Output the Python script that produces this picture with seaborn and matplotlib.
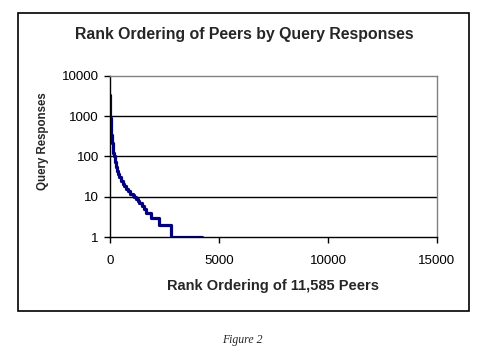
import matplotlib
matplotlib.use("Agg")
import matplotlib.pyplot as plt
import seaborn as sns
import pandas as pd
from matplotlib.patches import Rectangle

# Data
rank = [1, 5, 10, 20, 30, 50, 80, 120, 160, 200, 240, 275, 330, 380, 425,
        500, 580, 650, 730, 820, 930, 1040, 1115, 1200, 1280, 1345, 1450,
        1575, 1650, 1880, 2230, 2800, 4220]
responses = [3400, 2000, 1500, 900, 600, 340, 220, 163, 125, 100, 72, 56, 44,
             36, 31, 25, 21, 18, 16, 14, 12, 11, 10, 9, 8, 7, 6, 5, 4, 3, 2,
             1, 1]
x_ticks = [0, 5000, 10000, 15000]
y_ticks = [1, 10, 100, 1000, 10000]
y_tick_labels = ["1", "10", "100", "1000", "10000"]

df = pd.DataFrame({"rank": rank, "responses": responses})

sns.set_style("white")
plt.rcParams["font.family"] = ["Liberation Sans", "DejaVu Sans"]

W, H = 489, 357
fig = plt.figure(figsize=(W / 100, H / 100), dpi=100)
ax = fig.add_axes([110 / W, 1 - 237 / H, (437 - 110) / W, (237 - 76) / H])

sns.lineplot(data=df, x="rank", y="responses", ax=ax, color="#000080",
             linewidth=2.3, drawstyle="steps-post")

ax.set_yscale("log")
ax.set_xlim(0, 15000)
ax.set_ylim(1, 10000)
ax.set_xticks(x_ticks)
ax.set_xticklabels([str(v) for v in x_ticks])
ax.set_yticks(y_ticks)
ax.set_yticklabels(y_tick_labels)
ax.minorticks_off()
for v in [10, 100, 1000]:
    ax.axhline(v, color="black", linewidth=1.0, zorder=0)

ax.tick_params(axis="both", direction="out", length=4, width=1,
               color="black", labelsize=9.6, labelcolor="black", pad=4,
               left=True, bottom=True)
ax.tick_params(axis="x", pad=9)
for s in ["left", "bottom"]:
    ax.spines[s].set_color("black")
    ax.spines[s].set_linewidth(1.0)
for s in ["top", "right"]:
    ax.spines[s].set_color("#808080")
    ax.spines[s].set_linewidth(1.0)

ax.set_xlabel("Rank Ordering of 11,585 Peers", fontsize=10.5,
              fontweight="bold")
ax.xaxis.set_label_coords(0.5, (237 - 286) / 161)
ax.xaxis.label.set_va("center")
ax.set_ylabel("Query Responses", fontsize=8.3, fontweight="bold")
ax.yaxis.set_label_coords((43 - 110) / 327, (237 - 141) / 161)
ax.yaxis.label.set_va("center")

fig.text(0.5, 1 - 34 / H, "Rank Ordering of Peers by Query Responses",
         ha="center", va="center", fontsize=11.4, fontweight="bold")

fig.patches.append(Rectangle((18 / W, 1 - 311 / H), (469 - 18) / W,
                             (311 - 13) / H, transform=fig.transFigure,
                             fill=False, edgecolor="black", linewidth=1.2))

fig.text(242 / W, 1 - 340 / H, "Figure 2", ha="center", va="center",
         fontsize=8.5, style="italic",
         family=["Liberation Serif", "DejaVu Serif"])

fig.savefig("out.png", dpi=100)
